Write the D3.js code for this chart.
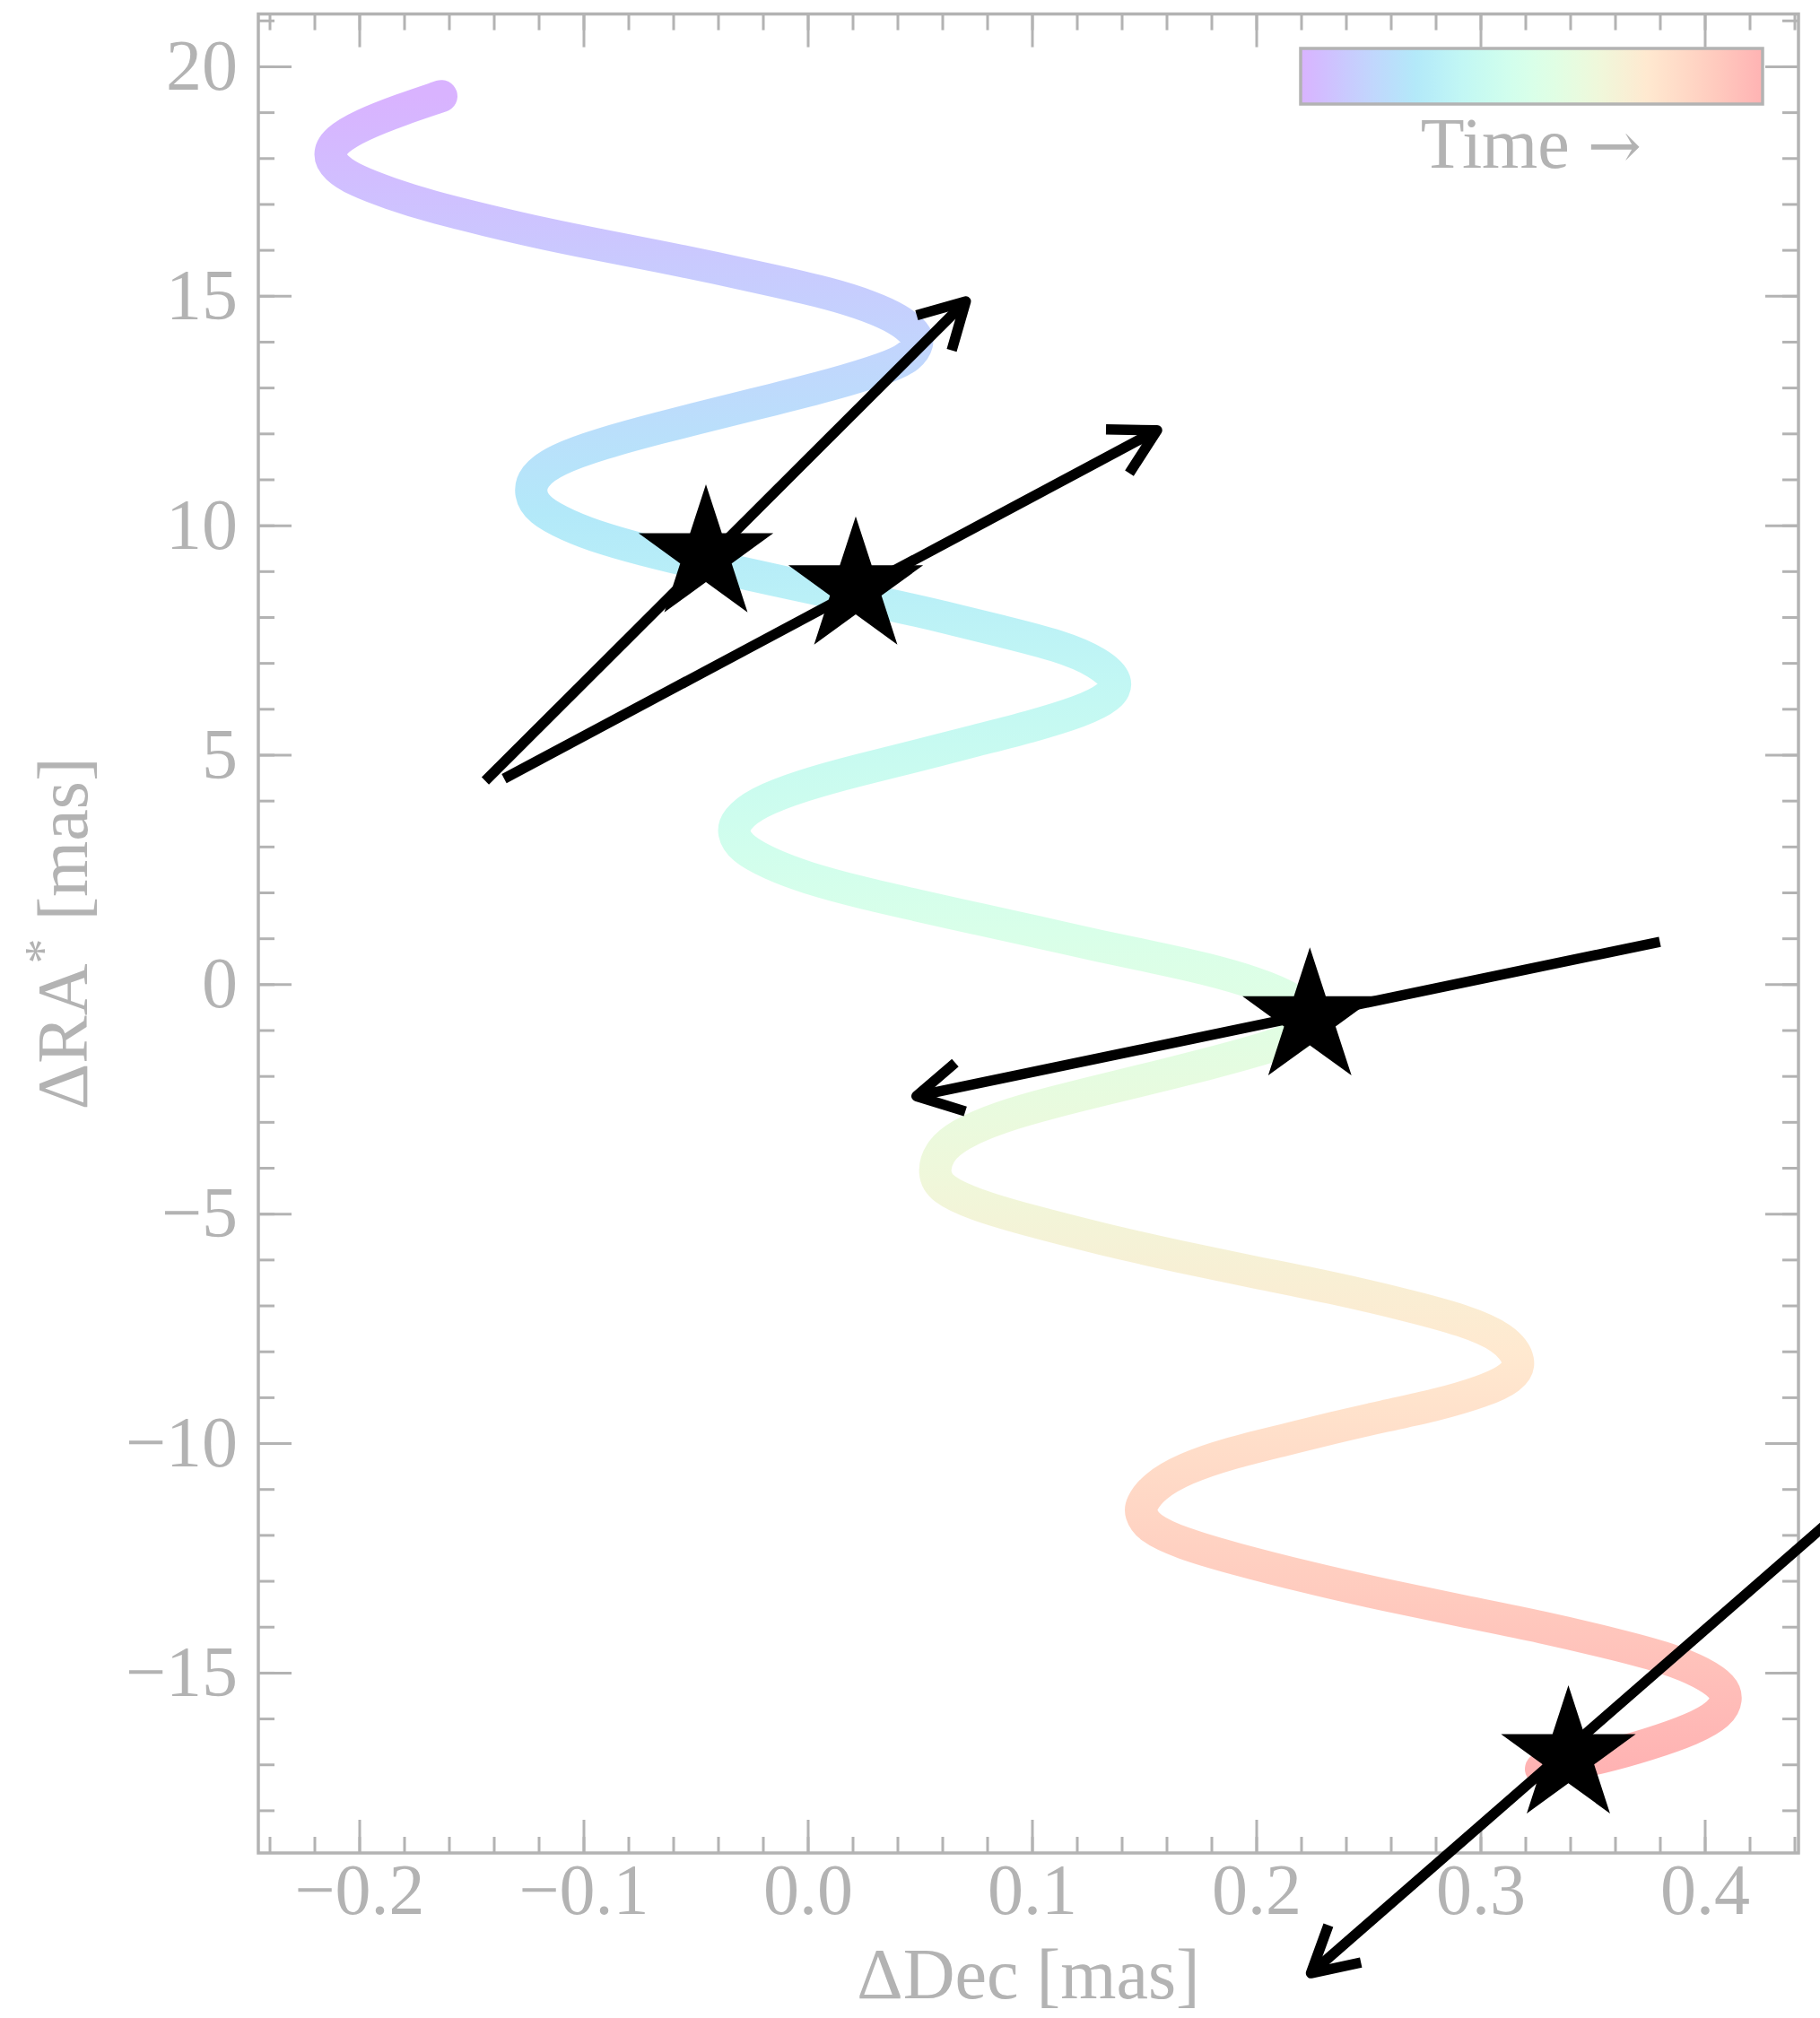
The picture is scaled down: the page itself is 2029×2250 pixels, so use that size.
<!DOCTYPE html>
<html>
<head>
<meta charset="utf-8">
<script src="https://cdn.jsdelivr.net/npm/d3@7"></script>
<style>
  html, body { margin: 0; padding: 0; background: #fff; }
  svg { display: block; }
  text { font-family: "Liberation Serif", "DejaVu Serif", serif; fill: #b3b3b3; }
</style>
</head>
<body>
<svg id="chart" width="2029" height="2250"></svg>
<script>
// apparent track of the source (ΔDec, ΔRA*) in mas
const trackDec = [
  -0.1634, -0.1812, -0.1991, -0.2106, -0.2139, -0.2106, -0.2017, -0.1864, -0.1685, -0.1430,
  -0.1175, -0.0920, -0.0664, -0.0410, -0.0154, 0.0101, 0.0279, 0.0407, 0.0484, 0.0494,
  0.0458, 0.0356, 0.0101, -0.0154, -0.0410, -0.0664, -0.0920, -0.1124, -0.1226, -0.1241,
  -0.1200, -0.1073, -0.0920, -0.0664, -0.0410, -0.0154, 0.0101, 0.0356, 0.0611, 0.0862,
  0.1121, 0.1300, 0.1389, 0.1351, 0.1223, 0.0994, 0.0739, 0.0484, 0.0228, -0.0027,
  -0.0231, -0.0320, -0.0336, -0.0295, -0.0168, -0.0015, 0.0241, 0.0495, 0.0751, 0.1006,
  0.1316, 0.1546, 0.1775, 0.2003, 0.2166, 0.2280, 0.2188, 0.2005, 0.1775, 0.1546,
  0.1316, 0.1086, 0.0857, 0.0671, 0.0581, 0.0560, 0.0593, 0.0742, 0.0972, 0.1316,
  0.1660, 0.2005, 0.2349, 0.2694, 0.2923, 0.3107, 0.3187, 0.3141, 0.3013, 0.2806,
  0.2570, 0.2340, 0.2110, 0.1880, 0.1680, 0.1540, 0.1485, 0.1483, 0.1516, 0.1665,
  0.1895, 0.2239, 0.2583, 0.2928, 0.3272, 0.3617, 0.3846, 0.3990, 0.4084, 0.4100,
  0.4071, 0.3950, 0.3747, 0.3545, 0.3342, 0.3270
];
const trackRA = [
  19.35, 19.06, 18.72, 18.39, 18.07, 17.79, 17.51, 17.23, 16.95, 16.64,
  16.35, 16.10, 15.86, 15.61, 15.33, 15.05, 14.77, 14.49, 14.17, 13.97,
  13.67, 13.43, 13.05, 12.74, 12.43, 12.12, 11.78, 11.43, 11.06, 10.68,
  10.33, 10.00, 9.71, 9.37, 9.09, 8.81, 8.54, 8.28, 8.00, 7.69,
  7.38, 7.01, 6.60, 6.26, 5.95, 5.61, 5.30, 4.97, 4.67, 4.33,
  3.95, 3.58, 3.30, 2.95, 2.62, 2.33, 1.99, 1.71, 1.43, 1.16,
  0.811, 0.586, 0.34, 0.025, -0.31, -0.76, -1.15, -1.45, -1.75, -2.03,
  -2.30, -2.58, -2.89, -3.28, -3.67, -4.12, -4.46, -4.80, -5.13, -5.56,
  -5.94, -6.29, -6.62, -7.02, -7.32, -7.69, -8.22, -8.59, -8.87, -9.17,
  -9.41, -9.67, -9.95, -10.22, -10.55, -10.95, -11.35, -11.52, -11.84, -12.18,
  -12.51, -12.94, -13.32, -13.67, -14.00, -14.40, -14.70, -15.00, -15.31, -15.58,
  -15.89, -16.23, -16.57, -16.85, -17.05, -17.10
];

// epochs marked with stars
const starDec = [-0.0454, 0.0214, 0.2239, 0.3392];
const starRA = [9.35, 8.65, -0.74, -16.82];

// arrows (tail -> head)
const arrowTailDec = [-0.1438, -0.1354, 0.3800, 0.4658];
const arrowTailRA = [4.43, 4.48, 0.924, -11.27];
const arrowHeadDec = [0.0705, 0.1558, 0.0485, 0.2244];
const arrowHeadRA = [14.88, 12.07, -2.44, -21.55];

const xMajor = [-0.2, -0.1, 0.0, 0.1, 0.2, 0.3, 0.4];
const yMajor = [-15, -10, -5, 0, 5, 10, 15, 20];

const W = 2029, H = 2250;
const axL = 288, axR = 2005, axT = 15.6, axB = 2066;
const grey = '#b3b3b3';

const svg = d3.select('#chart');
svg.append('rect').attr('width', W).attr('height', H).attr('fill', '#fff');

const x = d3.scaleLinear().domain([-0.245, 0.4418]).range([axL, axR]);
const y = d3.scaleLinear().domain([-18.93, 21.14]).range([axB, axT]);

// matplotlib "rainbow" at alpha 0.3 over white
function cmap(t) {
  const r = Math.min(1, Math.abs(2 * t - 0.5));
  const g = Math.sin(Math.PI * t);
  const b = Math.cos(Math.PI * t / 2);
  const f = c => Math.round(255 * (0.7 + 0.3 * Math.max(0, c)));
  return `rgb(${f(r)},${f(g)},${f(b)})`;
}

const defs = svg.append('defs');
defs.append('clipPath').attr('id', 'plotClip')
  .append('rect').attr('x', axL).attr('y', axT)
  .attr('width', axR - axL).attr('height', axB - axT);

const stops = d3.range(0, 1.0001, 0.05);
const trackGrad = defs.append('linearGradient').attr('id', 'trackGrad')
  .attr('gradientUnits', 'userSpaceOnUse')
  .attr('x1', 0).attr('x2', 0)
  .attr('y1', y(trackRA[0])).attr('y2', y(trackRA[trackRA.length - 1]));
trackGrad.selectAll('stop').data(stops).join('stop')
  .attr('offset', d => d).attr('stop-color', d => cmap(d));

const barGrad = defs.append('linearGradient').attr('id', 'barGrad')
  .attr('x1', 0).attr('x2', 1).attr('y1', 0).attr('y2', 0);
barGrad.selectAll('stop').data(stops).join('stop')
  .attr('offset', d => d).attr('stop-color', d => cmap(d));

// ticks (all inward, mirrored)
const fmtX = d3.format('.1f');
const fmtY = d3.format('d');
const xMinor = d3.range(-0.24, 0.4401, 0.02).map(v => +v.toFixed(2));
const yMinor = d3.range(-18, 21.01, 1);

function styleAxis(g) {
  g.select('.domain').remove();
  g.selectAll('line').attr('stroke', grey).attr('stroke-width', 3);
  g.selectAll('text').attr('fill', grey).style('font-size', '80px')
    .style('font-family', '"Liberation Serif", "DejaVu Serif", serif');
}

svg.append('g').attr('transform', `translate(0,${axB})`)
  .call(d3.axisBottom(x).tickValues(xMinor).tickSize(-18).tickFormat(''))
  .call(styleAxis);
svg.append('g').attr('transform', `translate(0,${axB})`)
  .call(d3.axisBottom(x).tickValues(xMajor).tickSize(-37).tickPadding(11).tickFormat(fmtX))
  .call(styleAxis);
svg.append('g').attr('transform', `translate(0,${axT})`)
  .call(d3.axisTop(x).tickValues(xMinor).tickSize(-18).tickFormat(''))
  .call(styleAxis);
svg.append('g').attr('transform', `translate(0,${axT})`)
  .call(d3.axisTop(x).tickValues(xMajor).tickSize(-37).tickFormat(''))
  .call(styleAxis);
svg.append('g').attr('transform', `translate(${axL},0)`)
  .call(d3.axisLeft(y).tickValues(yMinor).tickSize(-18).tickFormat(''))
  .call(styleAxis);
svg.append('g').attr('transform', `translate(${axL},0)`)
  .call(d3.axisLeft(y).tickValues(yMajor).tickSize(-37).tickPadding(23).tickFormat(fmtY))
  .call(styleAxis);
svg.append('g').attr('transform', `translate(${axR},0)`)
  .call(d3.axisRight(y).tickValues(yMinor).tickSize(-18).tickFormat(''))
  .call(styleAxis);
svg.append('g').attr('transform', `translate(${axR},0)`)
  .call(d3.axisRight(y).tickValues(yMajor).tickSize(-37).tickFormat(''))
  .call(styleAxis);

svg.append('rect')
  .attr('x', axL).attr('y', axT).attr('width', axR - axL).attr('height', axB - axT)
  .attr('fill', 'none').attr('stroke', grey).attr('stroke-width', 3.5);

// axis labels
svg.append('text').attr('class', 'label')
  .attr('x', (axL + axR) / 2).attr('y', 2228)
  .attr('text-anchor', 'middle').style('font-size', '80px')
  .text('ΔDec [mas]');
const yl = svg.append('text').attr('class', 'label')
  .attr('transform', `translate(97,${(axT + axB) / 2}) rotate(-90)`)
  .attr('text-anchor', 'middle').style('font-size', '80px');
yl.append('tspan').text('ΔRA');
yl.append('tspan').attr('dy', -30).style('font-size', '56px').text('*');
yl.append('tspan').attr('dy', 30).text(' [mas]');

// track
const pts = d3.zip(trackDec, trackRA);
const line = d3.line().x(d => x(d[0])).y(d => y(d[1])).curve(d3.curveBasis);
svg.append('g').attr('clip-path', 'url(#plotClip)')
  .append('path').datum(pts)
  .attr('d', line)
  .attr('fill', 'none')
  .attr('stroke', 'url(#trackGrad)')
  .attr('stroke-width', 36)
  .attr('stroke-linecap', 'round')
  .attr('stroke-linejoin', 'round');

// arrows
const headLen = 57, headAng = 29 * Math.PI / 180;
const arrows = d3.range(arrowTailDec.length).map(i => ({
  x0: x(arrowTailDec[i]), y0: y(arrowTailRA[i]),
  x1: x(arrowHeadDec[i]), y1: y(arrowHeadRA[i])
}));
const ag = svg.append('g');
arrows.forEach(a => {
  ag.append('line')
    .attr('x1', a.x0).attr('y1', a.y0).attr('x2', a.x1).attr('y2', a.y1)
    .attr('stroke', '#000').attr('stroke-width', 11.5);
  const back = Math.atan2(a.y0 - a.y1, a.x0 - a.x1);
  const w1 = [a.x1 + headLen * Math.cos(back + headAng), a.y1 + headLen * Math.sin(back + headAng)];
  const w2 = [a.x1 + headLen * Math.cos(back - headAng), a.y1 + headLen * Math.sin(back - headAng)];
  ag.append('path')
    .attr('d', d3.line()([w1, [a.x1, a.y1], w2]))
    .attr('fill', 'none').attr('stroke', '#000').attr('stroke-width', 11.5)
    .attr('stroke-linejoin', 'round').attr('stroke-linecap', 'butt');
});

// stars
const star = d3.symbol().type(d3.symbolStar).size(7006);
svg.append('g').selectAll('path').data(d3.zip(starDec, starRA)).join('path')
  .attr('transform', d => `translate(${x(d[0])},${y(d[1])})`)
  .attr('d', star)
  .attr('fill', '#000');

// time colour bar
svg.append('rect')
  .attr('x', 1450).attr('y', 54).attr('width', 515).attr('height', 62)
  .attr('fill', 'url(#barGrad)').attr('stroke', grey).attr('stroke-width', 3.5);
const tl = svg.append('text')
  .attr('x', 1707).attr('y', 187).attr('text-anchor', 'middle')
  .style('font-size', '80px');
tl.append('tspan').text('Time ');
tl.append('tspan').style('font-family', '"DejaVu Serif", serif').style('font-size', '72px').text('→');
</script>
</body>
</html>
